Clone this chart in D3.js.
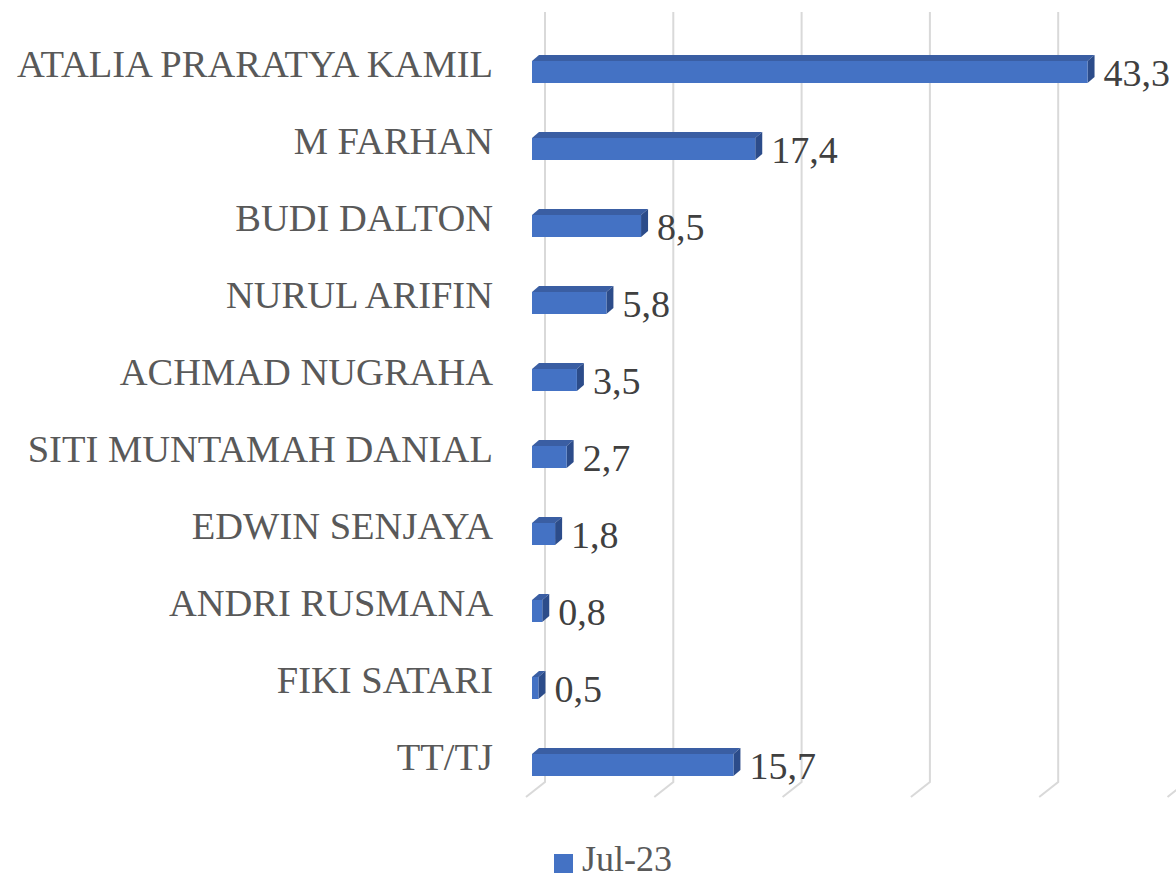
<!DOCTYPE html>
<html>
<head>
<meta charset="utf-8">
<script src="https://cdn.jsdelivr.net/npm/d3@7"></script>
<style>
  body { margin: 0; background: #fff; }
  svg { display: block; }
</style>
</head>
<body>
<div id="chart"></div>
<script>
// datos
const categories = ["ATALIA PRARATYA KAMIL", "M FARHAN", "BUDI DALTON", "NURUL ARIFIN",
  "ACHMAD NUGRAHA", "SITI MUNTAMAH DANIAL", "EDWIN SENJAYA", "ANDRI RUSMANA",
  "FIKI SATARI", "TT/TJ"];
const values = [43.3, 17.4, 8.5, 5.8, 3.5, 2.7, 1.8, 0.8, 0.5, 15.7];
const valueLabels = ["43,3", "17,4", "8,5", "5,8", "3,5", "2,7", "1,8", "0,8", "0,5", "15,7"];
const gridTicks = [0, 10, 20, 30, 40, 50];
const seriesName = "Jul-23";

const width = 1176;
const height = 880;
const barH = 22;
const depthX = 7, depthY = 6;     // profundidad 3D de las barras
const wallX = 13;                 // desplazamiento de la pared de fondo
const gridTop = 12, gridBottom = 782;
const font = "Liberation Serif, Times New Roman, serif";

let svg = d3.select("#chart").append("svg")
  .attr("width", width)
  .attr("height", height);

let x = d3.scaleLinear().domain([0, 50]).range([532, 532 + 641.5]);
let y = d3.scalePoint().domain(categories).range([33.5, 803.5]).padding(0.5);

// Grilla (con el pie inclinado del piso)
let grid = svg.append("g");
gridTicks.forEach(t => {
  let gx = x(t) + wallX;
  grid.append("path")
    .attr("d", `M${gx},${gridTop}L${gx},${gridBottom}L${gx - 19},${gridBottom + 15}`)
    .attr("fill", "none")
    .attr("stroke", "#d9d9d9")
    .attr("stroke-width", 2);
});

// Barras 3D
let data = categories.map((c, i) => ({cat: c, v: values[i], label: valueLabels[i]}));
let bars = svg.append("g").selectAll("g").data(data).join("g");

bars.each(function(d) {
  let g = d3.select(this);
  let x0 = x(0), x1 = x(d.v);
  let yt = y(d.cat) - barH / 2, yb = y(d.cat) + barH / 2;
  // cara superior
  g.append("path")
    .attr("d", `M${x0},${yt}L${x0 + depthX},${yt - depthY}L${x1 + depthX},${yt - depthY}L${x1},${yt}Z`)
    .attr("fill", "#3a5ea3");
  // cara lateral
  g.append("path")
    .attr("d", `M${x1},${yt}L${x1 + depthX},${yt - depthY}L${x1 + depthX},${yb - depthY}L${x1},${yb}Z`)
    .attr("fill", "#2c4c8a");
  // cara frontal
  g.append("rect")
    .attr("x", x0)
    .attr("y", yt)
    .attr("width", x1 - x0)
    .attr("height", barH)
    .attr("fill", "#4472c4");
});

// Etiquetas de valor
bars.append("text")
  .attr("x", d => x(d.v) + 16)
  .attr("y", d => y(d.cat) + 14)
  .attr("font-family", font)
  .attr("font-size", 38)
  .attr("fill", "#404040")
  .text(d => d.label);

// Etiquetas de categoria
svg.append("g").selectAll("text").data(categories).join("text")
  .attr("x", 493)
  .attr("y", d => y(d) + 5)
  .attr("text-anchor", "end")
  .attr("font-family", font)
  .attr("font-size", 38.5)
  .attr("fill", "#595959")
  .text(d => d);

// Leyenda
let legend = svg.append("g");
legend.append("rect")
  .attr("x", 554).attr("y", 854)
  .attr("width", 19).attr("height", 19)
  .attr("fill", "#4472c4");
legend.append("text")
  .attr("x", 582).attr("y", 871)
  .attr("font-family", font)
  .attr("font-size", 36)
  .attr("fill", "#595959")
  .text(seriesName);
</script>
</body>
</html>
